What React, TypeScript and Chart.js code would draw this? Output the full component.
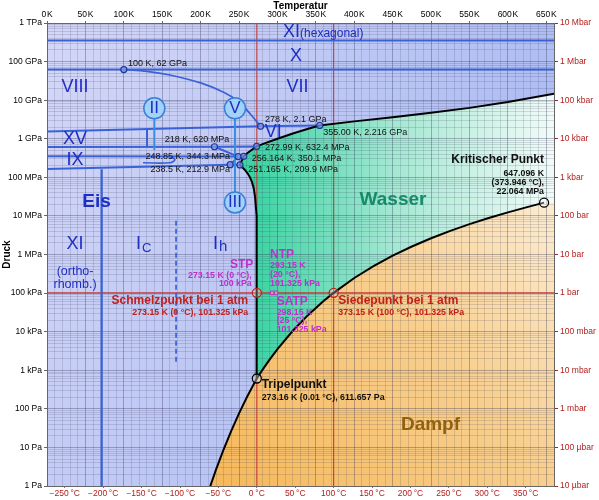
import React, { useEffect, useRef } from 'react';
import { Chart, registerables } from 'chart.js';

Chart.register(...registerables);

// ---------- axis ranges ----------
const T_MIN_K = 0;
const T_MAX_K = 660;
const P_MIN_PA = 1;
const P_MAX_PA = 1e12;

// ---------- tick labels ----------
const kelvinTicks = [0, 50, 100, 150, 200, 250, 300, 350, 400, 450, 500, 550, 600, 650];
const celsiusTicks = [-250, -200, -150, -100, -50, 0, 50, 100, 150, 200, 250, 300, 350];
const pascalTickLabels = ['1 Pa', '10 Pa', '100 Pa', '1 kPa', '10 kPa', '100 kPa', '1 MPa', '10 MPa', '100 MPa', '1 GPa', '10 GPa', '100 GPa', '1 TPa'];
const barTickLabels = ['10 µbar', '100 µbar', '1 mbar', '10 mbar', '100 mbar', '1 bar', '10 bar', '100 bar', '1 kbar', '10 kbar', '100 kbar', '1 Mbar', '10 Mbar'];

// ---------- phase boundaries (K, Pa) ----------
const sublimationK = [212.6, 220, 230, 240, 250, 260, 270, 273.16];
const sublimationPa = [1.0, 2.66, 8.96, 27.3, 76.0, 195.8, 470.1, 611.657];

const vaporK = [273.16, 280, 290, 300, 320, 340, 360, 373.15, 400, 425, 450, 475, 500, 525, 550, 575, 600, 625, 647.096];
const vaporPa = [611.657, 991.8, 1919, 3537, 10546, 27188, 62194, 101325, 245770, 500200, 932000, 1614000, 2639000, 4106000, 6117000, 8810000, 12345000, 16900000, 22064000];

const meltIhK = [273.16, 273.15, 273.08, 272.4, 270.9, 269.3, 266.9, 264.2, 261.3, 258.4, 255.2, 251.165];
const meltIhPa = [611.657, 101325, 1e6, 1e7, 3e7, 5e7, 7.5e7, 1e8, 1.25e8, 1.5e8, 1.75e8, 2.099e8];
const meltIIIK = [251.165, 253.0, 254.7, 256.164];
const meltIIIPa = [2.099e8, 2.6e8, 3.0e8, 3.501e8];
const meltVK = [256.164, 260.5, 265, 269, 272.99];
const meltVPa = [3.501e8, 4.2e8, 4.9e8, 5.6e8, 6.324e8];
const meltVIK = [272.99, 285, 300, 320, 340, 355];
const meltVIPa = [6.324e8, 7.81e8, 1.002e9, 1.365e9, 1.818e9, 2.216e9];
const meltVIIK = [355, 400, 450, 500, 550, 600, 660];
const meltVIIPa = [2.216e9, 2.82e9, 3.62e9, 4.7e9, 6.31e9, 8.97e9, 1.47e10];

// solid-solid boundaries
const iceXXIPa = 3.5e11;
const iceVIIXPa = 6.2e10;
const iceVIIIVIIK = [100, 130, 160, 200, 230, 250, 265, 278];
const iceVIIIVIIPa = [6.2e10, 5.6e10, 4.5e10, 2.8e10, 1.6e10, 9.0e9, 4.3e9, 2.1e9];
const iceVIIIVIK = [0, 278];
const iceVIIIVIPa = [1.55e9, 2.1e9];
const iceVIVIIK = [278, 355];
const iceVIVIIPa = [2.1e9, 2.216e9];
const iceXVK = [130.2, 130.2];
const iceXVPa = [6.2e8, 1.79e9];
const ice620K = [0, 218, 272.99];
const ice620Pa = [6.15e8, 6.2e8, 6.324e8];
const iceIIVK = [218, 248.85];
const iceIIVPa = [6.2e8, 3.443e8];
const iceIXTopK = [0, 248.85];
const iceIXTopPa = [3.51e8, 3.443e8];
const iceIXHookK = [160, 166.5, 160, 125];
const iceIXHookPa = [3.46e8, 2.9e8, 2.39e8, 2.39e8];
const iceIhIIK = [0, 238.5];
const iceIhIIPa = [1.64e8, 2.129e8];
const iceIIIIIK = [238.5, 248.85];
const iceIIIIIPa = [2.129e8, 3.443e8];
const iceIhIIIK = [238.5, 251.165];
const iceIhIIIPa = [2.129e8, 2.099e8];
const iceIIIVK = [248.85, 256.164];
const iceIIIVPa = [3.443e8, 3.501e8];
const iceXIIhK = [71.2, 71.2];
const iceXIIhPa = [1, 1.63e8];
const iceIcIhK = [168, 168];
const iceIcIhPa = [1.66e3, 7.8e6];

// pointer stems for bubbles
const stemIIK = [139.7, 139.7];
const stemIIPa = [6.15e9, 5.1e8];
const stemVK = [244.7, 244.7];
const stemVPa = [6.15e9, 2.23e7];

// reference lines
const atmPa = 101325;
const zeroCelsiusK = 273.15;
const hundredCelsiusK = 373.15;

// special points
const iceTripleK = [100, 278, 355, 218, 272.99, 248.85, 256.164, 238.5, 251.165];
const iceTriplePa = [6.2e10, 2.1e9, 2.216e9, 6.2e8, 6.324e8, 3.443e8, 3.501e8, 2.129e8, 2.099e8];
const bubbleK = [139.7, 244.7, 244.7];
const bubblePa = [6.15e9, 6.15e9, 2.23e7];
const redPointK = [273.15, 373.15];
const redPointPa = [101325, 101325];
const purplePointK = [293.15, 298.15];
const purplePointPa = [101325, 101325];
const blackPointK = [273.16, 647.096];
const blackPointPa = [611.657, 22064000];

// ---------- styles ----------
const TICK_FONT = '"Liberation Sans", Arial, Helvetica, sans-serif';
const TEXT_FONT = '"Liberation Sans", Arial, Helvetica, sans-serif';
const ICE_TEXT = '#1e2ec4';
const RED = '#c0201c';
const PURPLE = '#c02ecb';
const DARK = '#111111';
const BLUE_LINE = '#3a62d6';
const STEM_BLUE = '#3a8ee0';

type Note = { text: string; k: number; lg: number; size: number; bold?: boolean; color: string; align: CanvasTextAlign };

const notes: Note[] = [
  { text: 'XI', k: 307.2, lg: 11.767, size: 18, color: ICE_TEXT, align: 'left' },
  { text: '(hexagonal)', k: 329.4, lg: 11.73, size: 12, color: ICE_TEXT, align: 'left' },
  { text: 'X', k: 324, lg: 11.132, size: 18, color: ICE_TEXT, align: 'center' },
  { text: 'VIII', k: 36.5, lg: 10.341, size: 18, color: ICE_TEXT, align: 'center' },
  { text: 'VII', k: 326, lg: 10.328, size: 18, color: ICE_TEXT, align: 'center' },
  { text: 'XV', k: 36.5, lg: 8.993, size: 18, color: ICE_TEXT, align: 'center' },
  { text: 'IX', k: 36.4, lg: 8.449, size: 18, color: ICE_TEXT, align: 'center' },
  { text: 'VI', k: 294.6, lg: 9.17, size: 18, color: ICE_TEXT, align: 'center' },
  { text: 'Eis', k: 64.4, lg: 7.361, size: 19, bold: true, color: ICE_TEXT, align: 'center' },
  { text: 'XI', k: 36.5, lg: 6.272, size: 18, color: ICE_TEXT, align: 'center' },
  { text: 'I', k: 115.9, lg: 6.272, size: 18, color: ICE_TEXT, align: 'left' },
  { text: 'C', k: 123.7, lg: 6.168, size: 13, color: ICE_TEXT, align: 'left' },
  { text: 'I', k: 216.1, lg: 6.272, size: 18, color: ICE_TEXT, align: 'left' },
  { text: 'h', k: 224.0, lg: 6.194, size: 15, color: ICE_TEXT, align: 'left' },
  { text: '(ortho-', k: 36.5, lg: 5.546, size: 12.5, color: ICE_TEXT, align: 'center' },
  { text: 'rhomb.)', k: 36.5, lg: 5.232, size: 12.5, color: ICE_TEXT, align: 'center' },
  { text: 'Wasser', k: 450.4, lg: 7.413, size: 19, bold: true, color: '#178a68', align: 'center' },
  { text: 'Dampf', k: 499.2, lg: 1.581, size: 19, bold: true, color: '#93600e', align: 'center' },
  { text: 'Kritischer Punkt', k: 647.0, lg: 8.449, size: 12, bold: true, color: DARK, align: 'right' },
  { text: '647.096 K', k: 647.0, lg: 8.104, size: 8.8, bold: true, color: DARK, align: 'right' },
  { text: '(373.946 °C),', k: 647.0, lg: 7.861, size: 8.8, bold: true, color: DARK, align: 'right' },
  { text: '22.064 MPa', k: 647.0, lg: 7.62, size: 8.8, bold: true, color: DARK, align: 'right' },
  { text: 'Tripelpunkt', k: 279.5, lg: 2.618, size: 12, bold: true, color: DARK, align: 'left' },
  { text: '273.16 K (0.01 °C), 611.657 Pa', k: 279.5, lg: 2.299, size: 8.8, bold: true, color: DARK, align: 'left' },
  { text: 'Schmelzpunkt bei 1 atm', k: 262.0, lg: 4.813, size: 12, bold: true, color: RED, align: 'right' },
  { text: '273.15 K (0 °C), 101.325 kPa', k: 262.0, lg: 4.502, size: 8.8, bold: true, color: RED, align: 'right' },
  { text: 'Siedepunkt bei 1 atm', k: 379.2, lg: 4.813, size: 12, bold: true, color: RED, align: 'left' },
  { text: '373.15 K (100 °C), 101.325 kPa', k: 379.2, lg: 4.502, size: 8.8, bold: true, color: RED, align: 'left' },
  { text: 'STP', k: 268.6, lg: 5.728, size: 12, bold: true, color: PURPLE, align: 'right' },
  { text: '273.15 K (0 °C),', k: 266.5, lg: 5.45, size: 8.8, bold: true, color: PURPLE, align: 'right' },
  { text: '100 kPa', k: 266.5, lg: 5.253, size: 8.8, bold: true, color: PURPLE, align: 'right' },
  { text: 'NTP', k: 290.3, lg: 5.987, size: 12, bold: true, color: PURPLE, align: 'left' },
  { text: '293.15 K', k: 290.3, lg: 5.71, size: 8.8, bold: true, color: PURPLE, align: 'left' },
  { text: '(20 °C),', k: 290.3, lg: 5.476, size: 8.8, bold: true, color: PURPLE, align: 'left' },
  { text: '101.325 kPa', k: 290.3, lg: 5.243, size: 8.8, bold: true, color: PURPLE, align: 'left' },
  { text: 'SATP', k: 299.0, lg: 4.777, size: 12, bold: true, color: PURPLE, align: 'left' },
  { text: '298.15 K', k: 299.0, lg: 4.502, size: 8.8, bold: true, color: PURPLE, align: 'left' },
  { text: '(25 °C),', k: 299.0, lg: 4.277, size: 8.8, bold: true, color: PURPLE, align: 'left' },
  { text: '101.325 kPa', k: 299.0, lg: 4.043, size: 8.8, bold: true, color: PURPLE, align: 'left' },
  { text: '100 K, 62 GPa', k: 105.4, lg: 10.955, size: 9, color: DARK, align: 'left' },
  { text: '278 K, 2.1 GPa', k: 283.8, lg: 9.504, size: 9, color: DARK, align: 'left' },
  { text: '355.00 K, 2.216 GPa', k: 359.7, lg: 9.167, size: 9, color: DARK, align: 'left' },
  { text: '218 K, 620 MPa', k: 237.3, lg: 8.968, size: 9, color: DARK, align: 'right' },
  { text: '248.85 K, 344.3 MPa', k: 238.2, lg: 8.535, size: 9, color: DARK, align: 'right' },
  { text: '238.5 K, 212.9 MPa', k: 238.2, lg: 8.208, size: 9, color: DARK, align: 'right' },
  { text: '272.99 K, 632.4 MPa', k: 283.8, lg: 8.778, size: 9, color: DARK, align: 'left' },
  { text: '256.164 K, 350.1 MPa', k: 266.5, lg: 8.483, size: 9, color: DARK, align: 'left' },
  { text: '251.165 K, 209.9 MPa', k: 262.1, lg: 8.208, size: 9, color: DARK, align: 'left' },
  { text: 'II', k: 139.7, lg: 9.789, size: 17, color: ICE_TEXT, align: 'center' },
  { text: 'V', k: 244.7, lg: 9.789, size: 17, color: ICE_TEXT, align: 'center' },
  { text: 'III', k: 244.7, lg: 7.348, size: 17, color: ICE_TEXT, align: 'center' },
];

// ---------- helpers ----------
const pts = (ks: number[], ps: number[]) => ks.map((k, i) => ({ x: k, y: ps[i] }));
const isDecade = (v: number) => Math.abs(Math.log10(v) - Math.round(Math.log10(v))) < 1e-9;

const line = (data: any[], color: string, width: number, extra: any = {}) => ({
  data, borderColor: color, borderWidth: width, pointRadius: 0, fill: false, tension: 0, ...extra,
});
const markers = (data: any[], radius: number, border: string, bg: string, width: number, style = 'circle') => ({
  data, showLine: false, pointRadius: radius, pointBorderColor: border, pointBackgroundColor: bg,
  pointBorderWidth: width, pointStyle: style, borderColor: border, backgroundColor: bg, fill: false,
});
const area = (data: any[], bg: any) => ({
  data, fill: 'shape', backgroundColor: bg, borderWidth: 0, borderColor: 'rgba(0,0,0,0)', pointRadius: 0, tension: 0,
});

const iceFill = (c: any) => {
  const chart = c.chart;
  const a = chart.chartArea;
  if (!a) return '#c4cbf4';
  const g = chart.ctx.createLinearGradient(a.left, a.top, a.right, (a.top + a.bottom) / 2);
  g.addColorStop(0, '#d4d7f7');
  g.addColorStop(1, '#a8b9f2');
  return g;
};
const liquidFill = (c: any) => {
  const chart = c.chart;
  const a = chart.chartArea;
  if (!a) return '#9fe6cf';
  const x0 = chart.scales.x.getPixelForValue(zeroCelsiusK);
  const g = chart.ctx.createLinearGradient(x0, 0, a.right, 0);
  g.addColorStop(0, '#3dd4a4');
  g.addColorStop(0.45, '#a2e7d1');
  g.addColorStop(1, '#f2fbf8');
  return g;
};
const vaporFill = (c: any) => {
  const chart = c.chart;
  const a = chart.chartArea;
  if (!a) return '#f9d59a';
  const x0 = chart.scales.x.getPixelForValue(212);
  const y1 = chart.scales.y.getPixelForValue(22064000);
  const g = chart.ctx.createLinearGradient(x0, a.bottom, a.right, y1);
  g.addColorStop(0, '#f6b85a');
  g.addColorStop(0.6, '#f8cf8e');
  g.addColorStop(1, '#fcecd2');
  return g;
};

const notesPlugin = {
  id: 'notes',
  afterDatasetsDraw(chart: any) {
    const { ctx, scales } = chart;
    ctx.save();
    ctx.textBaseline = 'middle';
    for (const n of notes) {
      ctx.font = `${n.bold ? 'bold ' : ''}${n.size}px ${TEXT_FONT}`;
      ctx.fillStyle = n.color;
      ctx.textAlign = n.align;
      ctx.fillText(n.text, scales.x.getPixelForValue(n.k), scales.y.getPixelForValue(Math.pow(10, n.lg)));
    }
    ctx.restore();
  },
};

export default function App() {
  const ref = useRef<HTMLCanvasElement>(null);

  useEffect(() => {
    const sub = pts(sublimationK, sublimationPa);
    const vap = pts(vaporK, vaporPa);
    const melt = [
      ...pts(meltIhK, meltIhPa),
      ...pts(meltIIIK, meltIIIPa).slice(1),
      ...pts(meltVK, meltVPa).slice(1),
      ...pts(meltVIK, meltVIPa).slice(1),
      ...pts(meltVIIK, meltVIIPa).slice(1),
    ];
    const crit = { x: vaporK[vaporK.length - 1], y: vaporPa[vaporPa.length - 1] };

    const icePoly = [{ x: T_MIN_K, y: P_MIN_PA }, ...sub, ...melt.slice(1), { x: T_MAX_K, y: P_MAX_PA }, { x: T_MIN_K, y: P_MAX_PA }];
    const liquidPoly = [...melt, { x: T_MAX_K, y: crit.y }, ...vap.slice().reverse()];
    const vaporPoly = [...sub, ...vap.slice(1), { x: T_MAX_K, y: crit.y }, { x: T_MAX_K, y: P_MIN_PA }];

    const kelvinGrid: number[] = [];
    for (let k = T_MIN_K; k <= T_MAX_K; k += 10) kelvinGrid.push(k);
    const pascalGrid: number[] = [];
    for (let e = 0; e < 12; e++) for (let m = 1; m < 10; m++) pascalGrid.push(m * Math.pow(10, e));
    pascalGrid.push(P_MAX_PA);
    const decades = pascalTickLabels.map((_, i) => Math.pow(10, i));

    const datasets: any[] = [
      markers(pts(iceTripleK, iceTriplePa), 3, '#1f3a9a', 'rgba(130,160,235,0.7)', 1.2),
      markers(pts(blackPointK, blackPointPa), 4.5, '#000000', 'rgba(255,255,255,0.35)', 1.3),
      markers(pts(redPointK, redPointPa), 4.5, RED, 'rgba(255,255,255,0.25)', 1.3),
      markers(pts(purplePointK, purplePointPa), 2.5, PURPLE, 'rgba(240,190,240,0.6)', 1, 'rect'),
      markers(pts(bubbleK, bubblePa), 10.5, '#3a7fd8', '#a3d2f8', 1.5),
      line(pts(stemIIK, stemIIPa), STEM_BLUE, 2),
      line(pts(stemVK, stemVPa), STEM_BLUE, 2),
      line(sub, '#000000', 2),
      line(vap, '#000000', 2),
      line(melt, '#000000', 2),
      line(pts([T_MIN_K, T_MAX_K], [iceXXIPa, iceXXIPa]), BLUE_LINE, 2),
      line(pts([T_MIN_K, T_MAX_K], [iceVIIXPa, iceVIIXPa]), BLUE_LINE, 2),
      line(pts(iceVIIIVIIK, iceVIIIVIIPa), BLUE_LINE, 1.7, { tension: 0.4 }),
      line(pts(iceVIIIVIK, iceVIIIVIPa), BLUE_LINE, 2),
      line(pts(iceVIVIIK, iceVIVIIPa), BLUE_LINE, 2),
      line(pts(iceXVK, iceXVPa), BLUE_LINE, 2),
      line(pts(ice620K, ice620Pa), BLUE_LINE, 2),
      line(pts(iceIIVK, iceIIVPa), BLUE_LINE, 2),
      line(pts(iceIXTopK, iceIXTopPa), BLUE_LINE, 2),
      line(pts(iceIXHookK, iceIXHookPa), BLUE_LINE, 1.7, { tension: 0.4 }),
      line(pts(iceIhIIK, iceIhIIPa), BLUE_LINE, 2),
      line(pts(iceIIIIIK, iceIIIIIPa), BLUE_LINE, 2),
      line(pts(iceIhIIIK, iceIhIIIPa), BLUE_LINE, 2),
      line(pts(iceIIIVK, iceIIIVPa), BLUE_LINE, 2),
      line(pts(iceXIIhK, iceXIIhPa), BLUE_LINE, 2.2),
      line(pts(iceIcIhK, iceIcIhPa), BLUE_LINE, 1.7, { borderDash: [5, 3] }),
      line(pts([zeroCelsiusK, zeroCelsiusK], [P_MIN_PA, P_MAX_PA]), '#c43a36', 1.1),
      line(pts([hundredCelsiusK, hundredCelsiusK], [P_MIN_PA, P_MAX_PA]), '#c43a36', 1.1),
      line(pts([T_MIN_K, T_MAX_K], [atmPa, atmPa]), '#c43a36', 1.1),
      area(icePoly, iceFill),
      area(liquidPoly, liquidFill),
      area(vaporPoly, vaporFill),
    ];

    const minorGrid = 'rgba(50,50,90,0.16)';
    const majorGrid = 'rgba(50,50,90,0.34)';
    const tickFont = (size: number) => ({ family: TICK_FONT, size });

    const chart = new Chart(ref.current as HTMLCanvasElement, {
      type: 'line',
      data: { datasets },
      plugins: [notesPlugin],
      options: {
        animation: false,
        responsive: false,
        maintainAspectRatio: false,
        events: [],
        layout: { padding: 0 },
        plugins: {
          legend: { display: false },
          tooltip: { enabled: false },
          filler: { drawTime: 'beforeDraw' },
        },
        scales: {
          x: {
            type: 'linear', position: 'bottom', min: T_MIN_K, max: T_MAX_K,
            afterBuildTicks: (s: any) => { s.ticks = celsiusTicks.map((c) => ({ value: c + 273.15 })); },
            afterFit: (s: any) => { s.height = 14; },
            grid: { drawOnChartArea: false, tickLength: 2, color: '#777', tickColor: '#777' },
            border: { display: true, color: '#666' },
            ticks: {
              autoSkip: false, maxRotation: 0, padding: 1, color: '#b3201e', font: tickFont(8.5),
              callback: (_v: any, i: number) => `${celsiusTicks[i] < 0 ? '\u2212' + Math.abs(celsiusTicks[i]) : celsiusTicks[i]}\u2009°C`,
            },
          },
          xTop: {
            type: 'linear', position: 'top', min: T_MIN_K, max: T_MAX_K,
            afterBuildTicks: (s: any) => { s.ticks = kelvinGrid.map((v) => ({ value: v })); },
            afterFit: (s: any) => { s.height = 23; },
            title: { display: true, text: 'Temperatur', color: '#000', font: { family: TEXT_FONT, size: 10, weight: 'bold' }, padding: { top: 0, bottom: 0 } },
            grid: {
              tickLength: 2,
              color: (c: any) => (c.tick && c.tick.value % 50 === 0 ? majorGrid : minorGrid),
              tickColor: (c: any) => (c.tick && kelvinTicks.includes(c.tick.value) ? '#666' : 'rgba(0,0,0,0)'),
            },
            border: { display: true, color: '#666' },
            ticks: {
              autoSkip: false, maxRotation: 0, padding: 1, color: '#000', font: tickFont(8.5),
              callback: (v: any) => (kelvinTicks.includes(v) ? `${v}\u200AK` : ''),
            },
          },
          y: {
            type: 'logarithmic', position: 'left', min: P_MIN_PA, max: P_MAX_PA,
            afterBuildTicks: (s: any) => { s.ticks = pascalGrid.map((v) => ({ value: v, major: isDecade(v) })); },
            afterFit: (s: any) => { s.width = 47; },
            title: { display: true, text: 'Druck', color: '#000', font: { family: TEXT_FONT, size: 10, weight: 'bold' }, padding: { top: 1.5, bottom: 0 } },
            grid: {
              tickLength: 3,
              color: (c: any) => (c.tick && isDecade(c.tick.value) ? majorGrid : minorGrid),
              tickColor: (c: any) => (c.tick && isDecade(c.tick.value) ? '#666' : 'rgba(0,0,0,0)'),
            },
            border: { display: true, color: '#666' },
            ticks: {
              autoSkip: false, padding: 2, color: '#000', font: tickFont(8.5),
              callback: (v: any) => (isDecade(v) ? pascalTickLabels[Math.round(Math.log10(v))] : ''),
            },
          },
          yRight: {
            type: 'logarithmic', position: 'right', min: P_MIN_PA, max: P_MAX_PA,
            afterBuildTicks: (s: any) => { s.ticks = decades.map((v) => ({ value: v })); },
            afterFit: (s: any) => { s.width = 45; },
            grid: { drawOnChartArea: false, tickLength: 4, color: '#b3201e', tickColor: '#b3201e' },
            border: { display: true, color: '#666' },
            ticks: {
              autoSkip: false, padding: 2, color: '#b3201e', font: tickFont(8.5),
              callback: (_v: any, i: number) => barTickLabels[i],
            },
          },
        },
      } as any,
    } as any);

    return () => chart.destroy();
  }, []);

  return (
    <div style={{ position: 'absolute', left: 0, top: 0, width: 599, height: 500, background: '#ffffff' }}>
      <canvas ref={ref} width={599} height={500} style={{ display: 'block' }} />
    </div>
  );
}
